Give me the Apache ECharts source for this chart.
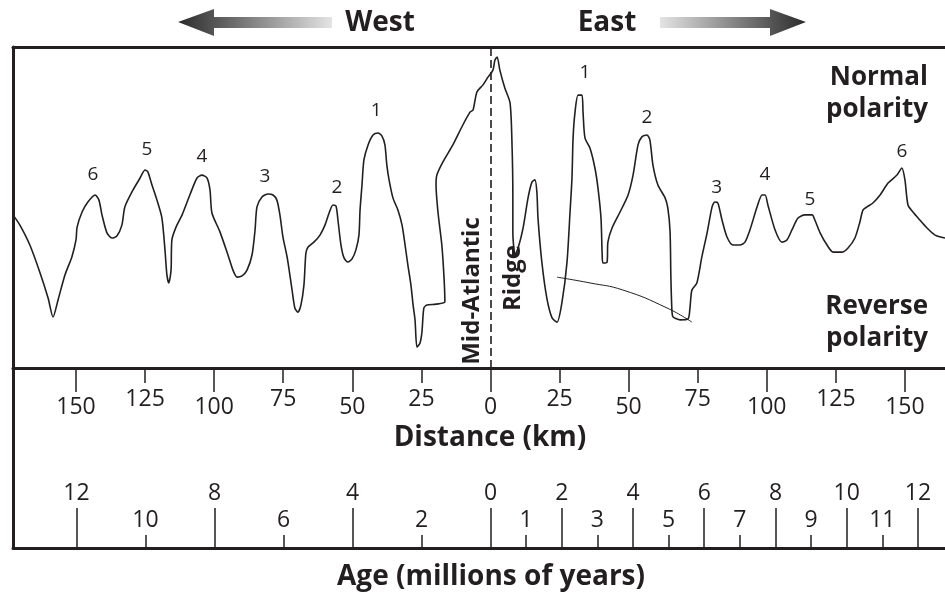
<!DOCTYPE html>
<html>
<head>
<meta charset="utf-8">
<title>Magnetic anomalies across the Mid-Atlantic Ridge</title>
<script src="https://cdn.jsdelivr.net/npm/echarts@6/dist/echarts.min.js"></script>
<style>
    html, body { margin: 0; padding: 0; background: #fff; }
    #chart { width: 945px; height: 592px; }
</style>
</head>
<body>
<div id="chart"></div>
<script>
// distance from the ridge axis (km, west is negative) and relative field strength (0-100)
var profileKm = [
    -172.8, -170.3, -166.7, -163.0, -160.1, -158.3, -156.5, -154.0, -151.5, -150.0, -149.6, -147.8, -145.7, -143.1, -141.7, -140.6,
    -138.8, -137.0, -135.2, -133.4, -132.3, -129.4, -126.8, -125.0, -124.0, -122.5, -120.7, -118.9, -117.8, -117.1, -116.4, -115.6,
    -115.3, -113.8, -111.6, -108.8, -106.2, -104.4, -102.6, -101.5, -100.8, -97.9, -95.0, -93.2, -91.7, -89.9, -88.1, -86.3,
    -85.2, -84.5, -82.7, -80.5, -78.7, -77.3, -76.2, -75.1, -73.6, -71.8, -70.8, -69.7, -68.6, -67.5, -66.8, -66.0,
    -63.9, -61.7, -59.9, -58.4, -57.0, -55.9, -55.2, -54.1, -53.0, -51.6, -50.1, -48.7, -47.6, -47.2, -46.5, -45.8,
    -44.3, -42.5, -40.7, -39.3, -38.2, -37.5, -36.7, -35.3, -33.5, -32.0, -30.9, -29.9, -28.8, -28.0, -27.3, -26.6,
    -25.5, -24.8, -24.1, -23.0, -19.7, -16.5, -16.8, -17.6, -19.0, -19.7, -19.4, -17.2, -13.6, -10.0, -7.4, -6.3,
    -4.9, -2.7, -0.9, 0.9, 1.6, 2.4, 3.4, 5.2, 7.1, 7.8, 8.1, 8.1, 8.9, 10.0, 11.8, 13.6,
    15.0, 16.1, 16.8, 17.2, 18.6, 20.4, 22.3, 24.1, 25.9, 27.7, 28.8, 29.5, 29.9, 30.6, 31.7, 33.1,
    33.5, 34.2, 36.0, 37.8, 38.9, 40.0, 40.4, 40.7, 42.2, 42.5, 44.0, 46.9, 49.8, 51.6, 53.4, 54.8,
    56.6, 57.7, 58.8, 60.6, 63.2, 64.2, 65.0, 65.3, 65.7, 66.1, 68.6, 71.5, 72.2, 72.9, 74.7, 76.5,
    78.4, 80.2, 81.2, 82.3, 83.8, 85.6, 87.8, 90.3, 92.1, 93.9, 96.5, 98.3, 99.4, 100.4, 103.0, 105.5,
    107.3, 109.1, 111.3, 113.8, 116.4, 117.4, 119.3, 121.8, 124.0, 127.2, 129.4, 131.9, 133.7, 134.8, 136.3, 138.4,
    141.0, 143.9, 147.1, 148.9, 150.0, 151.1, 152.9, 155.4, 158.0, 160.9, 164.5
];
var profileVal = [
    47.7, 44.5, 38.3, 29.6, 21.8, 15.9, 21.2, 29.0, 34.6, 39.9, 43.9, 48.6, 51.7, 53.9, 52.3, 47.7,
    42.1, 40.5, 41.1, 44.5, 50.2, 55.4, 59.2, 61.7, 61.1, 57.0, 52.3, 46.7, 36.8, 29.0, 26.5, 30.5,
    39.9, 43.9, 47.7, 53.9, 59.2, 60.1, 59.2, 55.4, 48.3, 42.4, 35.2, 30.5, 28.3, 28.7, 30.5, 35.2,
    43.0, 50.2, 53.3, 54.2, 53.9, 52.3, 47.7, 40.8, 34.6, 24.3, 18.7, 17.4, 19.6, 25.9, 35.8, 37.7,
    39.2, 41.4, 44.5, 48.3, 50.8, 50.5, 46.1, 38.3, 34.3, 33.0, 34.0, 36.8, 41.4, 49.2, 57.0, 64.8,
    69.5, 72.6, 73.2, 72.3, 69.5, 63.2, 58.6, 53.0, 49.2, 44.5, 38.3, 32.1, 25.9, 19.6, 15.0, 6.5,
    7.8, 11.2, 18.7, 19.6, 19.9, 20.6, 28.0, 38.3, 48.6, 57.0, 60.1, 64.2, 69.5, 75.7, 79.7, 80.4,
    86.0, 88.2, 90.6, 92.8, 95.9, 96.9, 92.8, 87.2, 82.5, 69.5, 53.9, 42.4, 35.2, 37.4, 43.6, 53.0,
    57.9, 58.6, 54.8, 46.7, 33.0, 21.8, 15.6, 14.3, 20.6, 33.0, 48.6, 59.2, 71.7, 79.7, 85.0, 85.0,
    79.7, 71.7, 68.5, 62.3, 56.1, 46.7, 36.1, 32.7, 33.0, 39.2, 43.6, 48.6, 53.9, 60.1, 69.5, 72.0,
    72.6, 71.0, 63.2, 57.0, 53.0, 49.8, 42.4, 28.0, 17.4, 15.9, 15.0, 15.3, 18.7, 24.3, 26.5, 34.6,
    42.1, 50.2, 51.7, 51.4, 46.1, 40.8, 38.3, 38.3, 39.2, 43.0, 50.2, 53.9, 53.9, 50.8, 43.0, 39.2,
    39.9, 43.0, 46.7, 47.7, 47.7, 46.1, 42.1, 38.3, 36.1, 36.1, 37.4, 40.5, 45.5, 49.2, 50.2, 51.4,
    53.9, 57.6, 60.1, 62.3, 58.6, 50.8, 48.6, 46.1, 43.6, 41.4, 40.5
];

// thin guide line drawn under the eastern reversed stripes
var guideKm = [24.1, 36.0, 47.9, 63.9, 72.9];
var guideVal = [28.3, 26.5, 24.3, 18.7, 14.3];

// numbered anomaly peaks
var peakNames = ['6', '5', '4', '3', '2', '1', '1', '2', '3', '4', '5', '6'];
var peakKm = [-143.9, -124.3, -104.4, -81.6, -55.6, -41.4, 34.2, 56.6, 81.9, 99.3, 115.6, 148.9];
var peakVal = [60.1, 67.9, 66.0, 59.5, 56.1, 80.1, 91.9, 77.9, 56.1, 60.1, 52.6, 67.3];

// tick labels
var distMajor = [-150, -100, -50, 0, 50, 100, 150];
var distMinor = [-125, -75, -25, 25, 75, 125];
var ageWestMajor = [-12, -8, -4];
var ageWestMinor = [-10, -6, -2];
var ageEastMajor = [0, 2, 4, 6, 8, 10, 12];
var ageEastMinor = [1, 3, 5, 7, 9, 11];

var ink = '#231f20';
var font = '"Open Sans", "Noto Sans", sans-serif';

function absLabel(v) {
    return String(Math.abs(v));
}

function zip(xs, ys) {
    return xs.map(function (x, i) { return [x, ys[i]]; });
}

function bottomAxis(grid, min, max, opts) {
    return {
        type: 'value',
        gridIndex: grid,
        position: 'bottom',
        min: min,
        max: max,
        splitLine: { show: false },
        axisLine: { show: opts.line, onZero: false, lineStyle: { color: ink, width: 3 } },
        axisTick: {
            show: true,
            inside: opts.inside,
            length: opts.tickLen,
            customValues: opts.values,
            lineStyle: { color: ink, width: 1.5 }
        },
        axisLabel: {
            show: true,
            inside: opts.inside,
            margin: opts.margin,
            customValues: opts.values,
            formatter: absLabel,
            color: ink,
            fontFamily: font,
            fontSize: opts.fontSize
        }
    };
}

function hiddenY(grid, border) {
    return {
        type: 'value',
        gridIndex: grid,
        min: 0,
        max: 100,
        show: true,
        splitLine: { show: false },
        axisTick: { show: false },
        axisLabel: { show: false },
        axisLine: { show: border, onZero: false, lineStyle: { color: ink, width: 3 } }
    };
}

var distMin = -172.8, distMax = 164.5;
var ageWestMin = -13.84, ageEastMax = 12.76;

var chart = echarts.init(document.getElementById('chart'), null, { renderer: 'canvas' });

chart.setOption({
    backgroundColor: '#fff',
    animation: false,
    grid: [
        { left: 13, right: 0, top: 47, bottom: 224, outerBoundsMode: 'none' },
        { left: 13, right: 0, top: 47, bottom: 224, outerBoundsMode: 'none' },
        { left: 13, right: 454.5, top: 368, bottom: 44, outerBoundsMode: 'none' },
        { left: 13, right: 454.5, top: 368, bottom: 44, outerBoundsMode: 'none' },
        { left: 490.5, right: 0, top: 368, bottom: 44, outerBoundsMode: 'none' },
        { left: 490.5, right: 0, top: 368, bottom: 44, outerBoundsMode: 'none' }
    ],
    xAxis: [
        bottomAxis(0, distMin, distMax, { line: true, inside: false, tickLen: 24, values: distMajor, margin: 28, fontSize: 23 }),
        {
            type: 'value', gridIndex: 0, position: 'top', min: distMin, max: distMax,
            splitLine: { show: false }, axisTick: { show: false }, axisLabel: { show: false },
            axisLine: { show: true, onZero: false, lineStyle: { color: ink, width: 3 } }
        },
        bottomAxis(1, distMin, distMax, { line: false, inside: false, tickLen: 15, values: distMinor, margin: 20, fontSize: 23 }),
        bottomAxis(2, ageWestMin, 0, { line: true, inside: true, tickLen: 40, values: ageWestMajor, margin: 43, fontSize: 23 }),
        bottomAxis(3, ageWestMin, 0, { line: false, inside: true, tickLen: 13, values: ageWestMinor, margin: 16, fontSize: 23 }),
        bottomAxis(4, 0, ageEastMax, { line: true, inside: true, tickLen: 40, values: ageEastMajor, margin: 43, fontSize: 23 }),
        bottomAxis(5, 0, ageEastMax, { line: false, inside: true, tickLen: 13, values: ageEastMinor, margin: 16, fontSize: 23 })
    ],
    yAxis: [
        hiddenY(0, true),
        hiddenY(1, false),
        hiddenY(2, true),
        hiddenY(3, false),
        hiddenY(4, false),
        hiddenY(5, false)
    ],
    series: [
        {
            name: 'profile',
            type: 'line',
            xAxisIndex: 0,
            yAxisIndex: 0,
            data: zip(profileKm, profileVal),
            showSymbol: false,
            smooth: 0.25,
            lineStyle: { color: ink, width: 1.6 },
            markLine: {
                silent: true,
                symbol: 'none',
                label: { show: false },
                lineStyle: { color: ink, width: 1.6, type: [8, 4] },
                data: [{ xAxis: 0 }]
            }
        },
        {
            name: 'guide',
            type: 'line',
            xAxisIndex: 0,
            yAxisIndex: 0,
            data: zip(guideKm, guideVal),
            showSymbol: false,
            smooth: true,
            lineStyle: { color: ink, width: 1 }
        },
        {
            name: 'peaks',
            type: 'scatter',
            xAxisIndex: 0,
            yAxisIndex: 0,
            symbolSize: 0,
            itemStyle: { opacity: 1 },
            data: peakKm.map(function (x, i) {
                return { name: peakNames[i], value: [x, peakVal[i]] };
            }),
            label: {
                show: true,
                position: 'inside',
                formatter: '{b}',
                color: ink,
                opacity: 1,
                textBorderWidth: 0,
                fontFamily: font,
                fontSize: 19
            }
        }
    ],
    graphic: [
        {
            type: 'polygon',
            shape: { points: [[178, 22], [214, 9], [214, 17], [332, 17], [332, 28], [214, 28], [214, 36]] },
            style: {
                fill: new echarts.graphic.LinearGradient(0, 0, 1, 0, [
                    { offset: 0, color: '#2b2b2b' },
                    { offset: 0.35, color: '#6a6a6a' },
                    { offset: 1, color: '#e4e4e4' }
                ])
            }
        },
        {
            type: 'polygon',
            shape: { points: [[660, 17], [770, 17], [770, 9], [806, 22], [770, 36], [770, 28], [660, 28]] },
            style: {
                fill: new echarts.graphic.LinearGradient(0, 0, 1, 0, [
                    { offset: 0, color: '#e4e4e4' },
                    { offset: 0.65, color: '#6a6a6a' },
                    { offset: 1, color: '#2b2b2b' }
                ])
            }
        },
        {
            type: 'text', x: 380, y: 23,
            style: { text: 'West', fill: ink, font: 'bold 28px ' + font, textAlign: 'center', textVerticalAlign: 'middle' }
        },
        {
            type: 'text', x: 607, y: 23,
            style: { text: 'East', fill: ink, font: 'bold 28px ' + font, textAlign: 'center', textVerticalAlign: 'middle' }
        },
        {
            type: 'text', x: 928, y: 94,
            style: { text: 'Normal\npolarity', fill: ink, font: 'bold 26px ' + font, textAlign: 'right', textVerticalAlign: 'middle', lineHeight: 32 }
        },
        {
            type: 'text', x: 928, y: 323,
            style: { text: 'Reverse\npolarity', fill: ink, font: 'bold 26px ' + font, textAlign: 'right', textVerticalAlign: 'middle', lineHeight: 32 }
        },
        {
            type: 'text', x: 472, y: 291, rotation: Math.PI / 2,
            style: { text: 'Mid-Atlantic', fill: ink, font: 'bold 24px ' + font, textAlign: 'center', textVerticalAlign: 'middle' }
        },
        {
            type: 'text', x: 513, y: 278, rotation: Math.PI / 2,
            style: { text: 'Ridge', fill: ink, font: 'bold 24px ' + font, textAlign: 'center', textVerticalAlign: 'middle' }
        },
        {
            type: 'text', x: 490, y: 438,
            style: { text: 'Distance (km)', fill: ink, font: 'bold 28px ' + font, textAlign: 'center', textVerticalAlign: 'middle' }
        },
        {
            type: 'text', x: 491, y: 577,
            style: { text: 'Age (millions of years)', fill: ink, font: 'bold 28px ' + font, textAlign: 'center', textVerticalAlign: 'middle' }
        }
    ]
});
</script>
</body>
</html>
